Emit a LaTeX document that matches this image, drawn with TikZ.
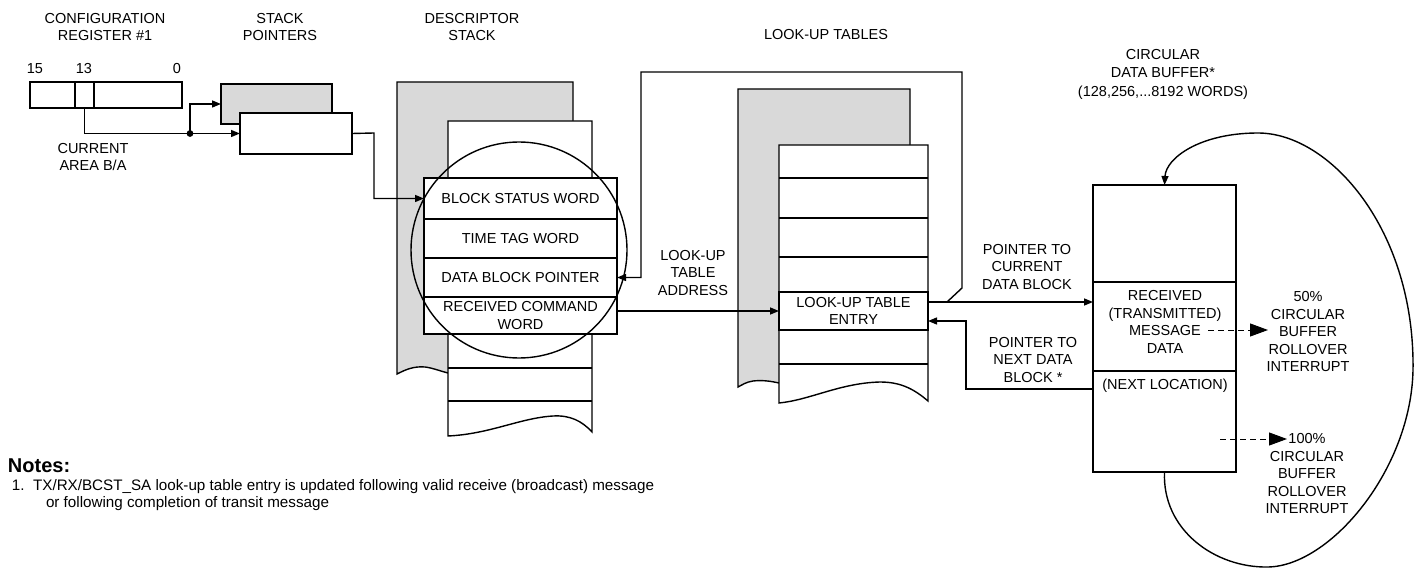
\documentclass[tikz,border=0pt]{standalone}
\usepackage{fontspec}
\setmainfont{Liberation Sans}
\usetikzlibrary{arrows.meta}
\definecolor{pagegray}{RGB}{217,217,217}
\begin{document}
\begin{tikzpicture}[x=1pt,y=-1pt,line width=1.4pt,
  every node/.style={font=\fontsize{14.5}{17.5}\selectfont,align=center,inner sep=0pt,outer sep=0pt},
  cell/.style={draw,fill=white,anchor=north west},
  arr/.style={-{Triangle[length=9pt,width=7pt]}},
  bigarr/.style={-{Triangle[length=18pt,width=13pt]}},
  dashline/.style={dash pattern=on 6pt off 4pt,line width=1pt},
  lbl/.style={}]
\useasboundingbox (0,0) rectangle (1418,569);

% ---------- titles ----------
\node[lbl] (tcfg) at (105,27) {CONFIGURATION\\REGISTER \#1};
\node[lbl] (tsp) at (280,27) {STACK\\POINTERS};
\node[lbl] (tds) at (472,27) {DESCRIPTOR\\STACK};
\node[lbl] (tlu) at (826,35) {LOOK-UP TABLES};
\node[lbl,font=\fontsize{14.5}{18.5}\selectfont] (tcb) at (1163,74) {CIRCULAR\\DATA BUFFER*\\(128,256,...8192 WORDS)};

% ---------- configuration register ----------
\node[cell,minimum width=152pt,minimum height=26pt] (cfg) at (30,82) {};
\node[cell,minimum width=19pt,minimum height=26pt] (bit13) at (75,82) {};
\node (n15) at (35,69) {15};
\node (n13) at (84,69) {13};
\node (n0) at (177,69) {0};
\node (cur) at (93,157) {CURRENT\\AREA B/A};

% ---------- stack pointers ----------
\node[cell,fill=pagegray,minimum width=111pt,minimum height=40pt] (spg) at (221,84) {};
\node[cell,minimum width=112pt,minimum height=41pt] (spw) at (240,113) {};
\coordinate (dot) at (190,133.5);
\draw[arr] (bit13.south) |- (dot) -- (spw.west);
\draw[arr] (dot) |- (spg.west);
\fill (dot) circle (3.4pt);

% ---------- descriptor stack ----------
\fill[pagegray] (397,82) -- (573,82) -- (573,121) -- (448,121) -- (448,373)
  .. controls (440,371) and (433,368) .. (425,367) .. controls (413,366) and (405,370) .. (397,374) -- cycle;
\draw (448,373) .. controls (440,371) and (433,368) .. (425,367) .. controls (413,366) and (405,370) .. (397,374)
  -- (397,82) -- (573,82) -- (573,121);
\draw[fill=white] (448,121) -- (592,121) -- (592,432)
  .. controls (582,421) and (570,415) .. (553,416) .. controls (520,418) and (490,434) .. (448,436) -- cycle;
\draw (448,368) -- (592,368);
\draw (448,401) -- (592,401);
\node[cell,minimum width=193pt,minimum height=41pt] (bsw) at (424,178) {BLOCK STATUS WORD};
\node[cell,minimum width=193pt,minimum height=39pt] (ttw) at (424,219) {TIME TAG WORD};
\node[cell,minimum width=193pt,minimum height=39pt] (dbp) at (424,258) {DATA BLOCK POINTER};
\node[cell,minimum width=193pt,minimum height=37pt] (rcw) at (424,297) {RECEIVED COMMAND\\WORD};
\draw (519,250) circle (108pt);

\draw[arr] (spw.east) -- (374,133) |- (bsw.west);

% ---------- look-up tables ----------
\fill[pagegray] (738,89) -- (910,89) -- (910,145) -- (779,145) -- (779,383)
  .. controls (770,381) and (762,380) .. (753,381) .. controls (746,382) and (742,385) .. (738,387) -- cycle;
\draw (779,383) .. controls (770,381) and (762,380) .. (753,381) .. controls (746,382) and (742,385) .. (738,387)
  -- (738,89) -- (910,89) -- (910,145);
\draw[fill=white] (779,145) -- (928,145) -- (928,401)
  .. controls (915,390) and (902,382) .. (880,382) .. controls (840,383) and (810,400) .. (779,403) -- cycle;
\draw (779,178) -- (928,178);
\draw (779,218) -- (928,218);
\draw (779,257) -- (928,257);
\draw (779,364) -- (928,364);
\node[cell,minimum width=149pt,minimum height=38pt] (lue) at (779,292) {LOOK-UP TABLE\\ENTRY};

\node (lta) at (693,273) {LOOK-UP\\TABLE\\ADDRESS};
\draw[arr] (rcw.east |- lue.west) -- (lue.west);

% ---------- circular data buffer ----------
\node[cell,minimum width=143pt,minimum height=97pt] (cb1) at (1093,185) {};
\node[cell,minimum width=143pt,minimum height=89pt] (cb2) at (1093,282) {};
\node[cell,minimum width=143pt,minimum height=101pt] (cb3) at (1093,371) {};
\node (rtm) at (1165,322) {RECEIVED\\(TRANSMITTED)\\MESSAGE\\DATA};
\node (nloc) at (1165,386) {(NEXT LOCATION)};

\coordinate (ptrout) at ([yshift=9pt]lue.east);
\coordinate (ptrin) at ([yshift=-10pt]lue.east);
\draw[arr] (ptrout) -- (ptrout -| cb2.west);
\coordinate (jn) at (947,302);
\draw[arr] (jn) -- (962,288) -- (962,72) -- (641,72) |- (dbp.east);
\coordinate (nb) at (1093,389);
\draw[arr] (nb) -- (966,389) |- (ptrin);

\node (pcur) at (1027,267) {POINTER TO\\CURRENT\\DATA BLOCK};
\node (pnext) at (1033,360) {POINTER TO\\NEXT DATA\\BLOCK *};

% rollover interrupts
\node (r50) at (1308,332) {50\%\\CIRCULAR\\BUFFER\\ROLLOVER\\INTERRUPT};
\node (r100) at (1307,474) {100\%\\CIRCULAR\\BUFFER\\ROLLOVER\\INTERRUPT};
\draw[dashline,bigarr] (1208,330) -- (1268,330);
\draw[dashline,bigarr] (1220,439) -- (1287,439);

% wrap-around loop
\draw[arr] (cb3.south) .. controls (1162,530) and (1215,568) .. (1268,567)
  .. controls (1330,566) and (1411,470) .. (1413,370)
  .. controls (1415,230) and (1330,133) .. (1258,133)
  .. controls (1200,133) and (1166,158) .. (cb1.north);

% ---------- notes ----------
\node[anchor=west,font=\fontsize{20}{24}\bfseries\selectfont] (notes) at (8,466) {Notes:};
\node[anchor=west,font=\fontsize{15.2}{18}\selectfont] (note1) at (12,487) {1.\ \ TX/RX/BCST\_SA look-up table entry is updated following valid receive (broadcast) message};
\node[anchor=west,font=\fontsize{15.2}{18}\selectfont] (note2) at (46,504) {or following completion of transit message};
\end{tikzpicture}
\end{document}
